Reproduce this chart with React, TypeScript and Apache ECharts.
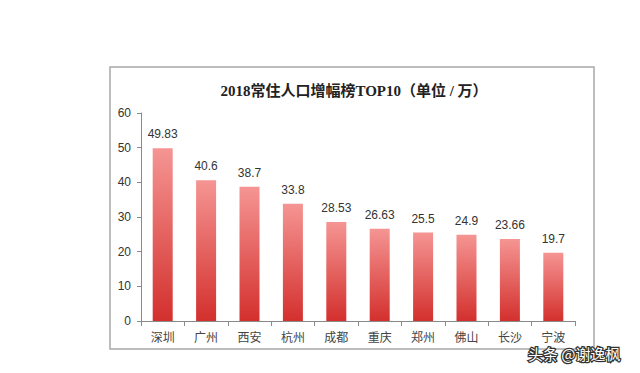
import React, { useEffect, useRef } from "react";
import * as echarts from "echarts";

const categories = ["深圳", "广州", "西安", "杭州", "成都", "重庆", "郑州", "佛山", "长沙", "宁波"];
const values = [49.83, 40.6, 38.7, 33.8, 28.53, 26.63, 25.5, 24.9, 23.66, 19.7];
const valueLabels = ["49.83", "40.6", "38.7", "33.8", "28.53", "26.63", "25.5", "24.9", "23.66", "19.7"];
const titleText = "2018常住人口增幅榜TOP10（单位 / 万）";
const watermark = "头条 @谢逸枫";

export default function App() {
  const ref = useRef<HTMLDivElement>(null);
  useEffect(() => {
    if (!ref.current) return;
    const chart = echarts.init(ref.current, null, { renderer: "svg" });
    chart.setOption({
      animation: false,
      backgroundColor: "#ffffff",
      title: {
        text: titleText,
        left: 349,
        textAlign: "center",
        top: 78,
        textStyle: {
          fontSize: 15,
          fontWeight: "bold",
          color: "#222",
          fontFamily: "'Liberation Serif', 'Noto Sans CJK SC', serif",
        },
      },
      grid: { left: 141, right: 65, top: 113, bottom: 52 },
      xAxis: {
        type: "category",
        data: categories,
        axisLine: { lineStyle: { color: "#8a8a8a" } },
        axisTick: { show: true, alignWithLabel: false, lineStyle: { color: "#8a8a8a" } },
        axisLabel: {
          color: "#444",
          fontSize: 12,
          lineHeight: 12,
          margin: 9,
          fontFamily: "'Noto Sans CJK SC', sans-serif",
        },
      },
      yAxis: {
        type: "value",
        min: 0,
        max: 60,
        interval: 10,
        splitLine: { show: false },
        axisLine: { show: true, lineStyle: { color: "#8a8a8a" } },
        axisTick: { show: true, length: 4, lineStyle: { color: "#8a8a8a" } },
        axisLabel: {
          color: "#333",
          fontSize: 12,
          margin: 10,
          fontFamily: "'Liberation Sans', 'Noto Sans', sans-serif",
        },
      },
      series: [
        {
          type: "bar",
          data: values,
          barWidth: 20,
          itemStyle: {
            color: new echarts.graphic.LinearGradient(0, 0, 0, 1, [
              { offset: 0, color: "#f59593" },
              { offset: 1, color: "#d3302d" },
            ]),
          },
          label: {
            show: true,
            position: "top",
            distance: 8,
            color: "#333",
            fontSize: 12,
            fontFamily: "'Liberation Sans', 'Noto Sans', sans-serif",
            formatter: (p: any) => valueLabels[p.dataIndex],
          },
        },
      ],
      graphic: [
        {
          type: "rect",
          shape: { x: 110, y: 67, width: 484, height: 282 },
          style: { fill: "none", stroke: "#a8a8a8", lineWidth: 1.5 },
          silent: true,
        },
        {
          type: "text",
          x: 528,
          y: 346,
          style: {
            text: watermark,
            fontSize: 15,
            lineHeight: 15,
            fill: "#ffffff",
            stroke: "#333333",
            lineWidth: 2.5,
            fontFamily: "'Noto Sans CJK SC', sans-serif",
          },
          z: 100,
        },
      ],
    });
    return () => chart.dispose();
  }, []);
  return <div ref={ref} style={{ width: 640, height: 373, position: "absolute", left: 0, top: 0 }} />;
}
